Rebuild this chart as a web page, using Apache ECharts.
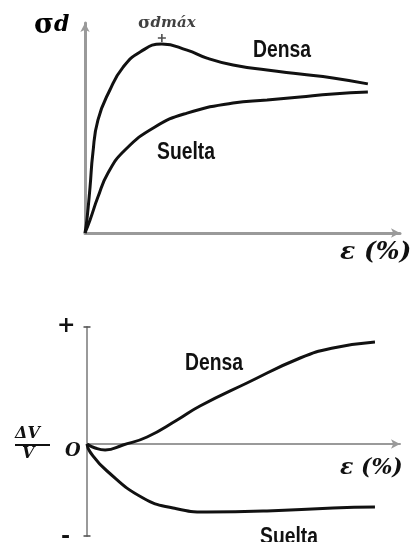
<!DOCTYPE html>
<html>
<head>
<meta charset="utf-8">
<script src="https://cdn.jsdelivr.net/npm/echarts@6/dist/echarts.min.js"></script>
<style>
  html, body { margin: 0; padding: 0; background: #fff; }
  #chart { width: 415px; height: 542px; }
</style>
</head>
<body>
<div id="chart"></div>
<script>
// Triaxial behaviour of sand: deviator stress and volume change vs. axial strain

// Upper panel: deviator stress σd against strain ε (%)
const strainDense = [0, 0.06, 0.16, 0.25, 0.41, 0.79, 1.21, 1.75, 2.44, 3.24, 3.87, 4.70, 5.78, 6.83, 7.87, 8.98];
const stressDense = [0, 0.62, 2.19, 3.81, 5.38, 6.81, 7.90, 8.62, 9.00, 8.71, 8.33, 8.00, 7.76, 7.57, 7.38, 7.10];
const strainLoose = [0, 0.16, 0.41, 0.73, 1.27, 2.22, 3.24, 4.70, 5.78, 6.83, 7.87, 8.98];
const stressLoose = [0, 0.62, 1.71, 2.86, 3.95, 5.05, 5.71, 6.19, 6.33, 6.48, 6.62, 6.71];

// Lower panel: volumetric strain ΔV/V against strain ε (%)
const strainVolDense = [0, 0.26, 0.58, 1.15, 1.92, 2.88, 3.61, 5.11, 6.81, 7.86, 9.20];
const volDense       = [0, -0.20, -0.30, -0.05, 0.35, 1.20, 1.90, 3.05, 4.30, 4.80, 5.10];
const strainVolLoose = [0, 0.10, 0.64, 1.79, 2.75, 3.83, 5.75, 7.86, 9.20];
const volLoose       = [0, -0.40, -1.35, -2.70, -3.20, -3.40, -3.35, -3.20, -3.15];

const seriesLabels = ['Densa', 'Suelta'];
const volAxisEnds = [5.85, -4.6];

const zip = (xs, ys) => xs.map((x, i) => [x, ys[i]]);
const peakIdx = stressDense.indexOf(Math.max(...stressDense));

const AXIS_GREY = '#9a9a9a';
const CURVE = '#111';
const sans = "'Liberation Sans', Arial, sans-serif";
const serif = "'DejaVu Serif', 'Liberation Serif', serif";

function axisBase(width) {
  return {
    type: 'value', min: 0, max: 10,
    axisLabel: { show: false }, axisTick: { show: false }, splitLine: { show: false },
    axisLine: { show: true, onZero: true, symbol: ['none', 'arrow'], symbolSize: [7, 9],
      lineStyle: { color: AXIS_GREY, width: width } }
  };
}

const curve = (name, xi, yi, data) => ({
  name, type: 'line', xAxisIndex: xi, yAxisIndex: yi, data,
  smooth: 0.5, symbol: 'none', silent: true,
  lineStyle: { color: CURVE, width: 3 }
});

// bold, horizontally condensed label text
const tag = (text, left, top, size) => ({
  type: 'text', left, top, scaleX: 0.84,
  style: { text, font: `bold ${size}px ${sans}`, fill: '#111' }
});

const chart = echarts.init(document.getElementById('chart'), null, { renderer: 'canvas' });

chart.setOption({
  animation: false,
  grid: [
    { left: 85, top: 23, width: 315, height: 210 },
    { left: 87, top: 327, width: 313, height: 209 }
  ],
  xAxis: [
    Object.assign(axisBase(3), { gridIndex: 0 }),
    Object.assign(axisBase(2), { gridIndex: 1 })
  ],
  yAxis: [
    Object.assign(axisBase(3), { gridIndex: 0, min: 0, max: 10 }),
    Object.assign(axisBase(2), { gridIndex: 1, min: volAxisEnds[1], max: volAxisEnds[0],
      axisLine: { show: true, onZero: false, symbol: 'none', lineStyle: { color: AXIS_GREY, width: 2 } } })
  ],
  series: [
    curve(seriesLabels[0], 0, 0, zip(strainDense, stressDense)),
    curve(seriesLabels[1], 0, 0, zip(strainLoose, stressLoose)),
    curve(seriesLabels[0], 1, 1, zip(strainVolDense, volDense)),
    curve(seriesLabels[1], 1, 1, zip(strainVolLoose, volLoose)),
    {
      // peak deviator stress marker
      type: 'scatter', xAxisIndex: 0, yAxisIndex: 0, silent: true, clip: false,
      data: [[strainDense[peakIdx], stressDense[peakIdx]]],
      symbol: 'path://M4,0 L6,0 L6,4 L10,4 L10,6 L6,6 L6,10 L4,10 L4,6 L0,6 L0,4 L4,4 Z',
      symbolSize: 8, symbolOffset: [0, -6], itemStyle: { color: '#222' },
      label: {
        show: true, position: 'top', distance: 2, offset: [5, 0],
        formatter: '{s|σ}{t|dmáx}',
        rich: {
          s: { fontFamily: serif, fontWeight: 'bold', fontSize: 17, color: '#111' },
          t: { fontFamily: serif, fontWeight: 'bold', fontStyle: 'italic', fontSize: 15, color: '#111' }
        }
      }
    },
    {
      // end caps on the volume-change axis
      type: 'scatter', xAxisIndex: 1, yAxisIndex: 1, silent: true, clip: false,
      data: volAxisEnds.map(v => [0, v]),
      symbol: 'rect', symbolSize: [7, 2], itemStyle: { color: '#555' }
    }
  ],
  graphic: [
    { type: 'text', left: 34, top: 12, style: {
        text: '{s|σ}{d|d}', rich: {
          s: { fontFamily: serif, fontWeight: 'bold', fontSize: 27, color: '#111' },
          d: { fontFamily: serif, fontWeight: 'bold', fontStyle: 'italic', fontSize: 22, color: '#111' }
        } } },
    tag(seriesLabels[0], 253, 39, 23),
    tag(seriesLabels[1], 157, 141, 23),
    { type: 'text', left: 340, top: 240, style: { text: 'ε (%)', font: `italic bold 25px ${serif}`, fill: '#111' } },

    { type: 'text', left: 57, top: 315, style: { text: '+', font: `bold 22px ${serif}`, fill: '#111' } },
    { type: 'text', left: 61, top: 526, style: { text: '-', font: `bold 22px ${serif}`, fill: '#111' } },
    tag(seriesLabels[0], 185, 352, 23),
    tag(seriesLabels[1], 260, 526, 23),
    { type: 'text', left: 340, top: 457, style: { text: 'ε (%)', font: `italic bold 22px ${serif}`, fill: '#111' } },
    { type: 'text', left: 65, top: 442, style: { text: 'O', font: `italic bold 18px ${serif}`, fill: '#111' } },
    { type: 'text', left: 15, top: 426, style: { text: 'ΔV', font: `italic bold 16px ${serif}`, fill: '#111' } },
    { type: 'line', shape: { x1: 15, y1: 445, x2: 50, y2: 445 }, style: { stroke: '#111', lineWidth: 2 } },
    { type: 'text', left: 22, top: 446, style: { text: 'V', font: `italic bold 16px ${serif}`, fill: '#111' } }
  ]
});
</script>
</body>
</html>
